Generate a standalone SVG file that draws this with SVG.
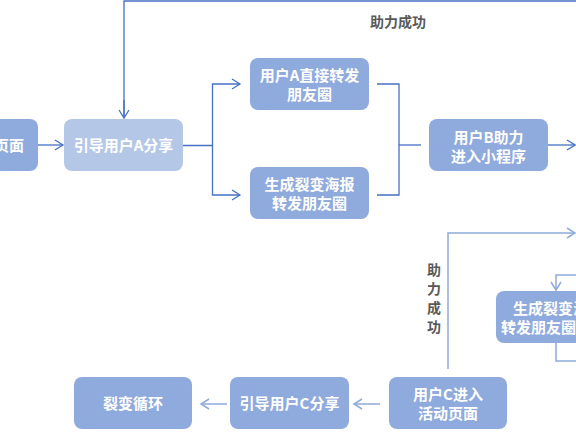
<svg xmlns="http://www.w3.org/2000/svg" width="576" height="432" viewBox="0 0 576 432">
<style>
.node rect{fill:#8faadc;}
.node.light rect{fill:#b4c7e7;}
.node text{fill:#ffffff;font-family:"Noto Sans CJK SC","Liberation Sans",sans-serif;font-size:15px;font-weight:bold;text-anchor:middle;}
.dark{fill:none;stroke:#4472c4;stroke-width:1.3;}
.lite{fill:none;stroke:#8faadc;stroke-width:1.5;}
.lbl{fill:#595959;font-family:"Noto Sans CJK SC","Liberation Sans",sans-serif;font-size:14px;font-weight:bold;text-anchor:middle;}
</style>
<defs>
<marker id="ad" markerUnits="userSpaceOnUse" markerWidth="12" markerHeight="12" refX="9" refY="6" orient="auto">
<path d="M1,1 L9,6 L1,11" fill="none" stroke="#4472c4" stroke-width="1.3"/>
</marker>
<marker id="al" markerUnits="userSpaceOnUse" markerWidth="12" markerHeight="12" refX="9" refY="6" orient="auto">
<path d="M1,1 L9,6 L1,11" fill="none" stroke="#8faadc" stroke-width="1.5"/>
</marker>
</defs>
<rect width="576" height="432" fill="#ffffff"/>
<g id="connectors">
<path class="dark" d="M38,145 H63" marker-end="url(#ad)"/>
<path class="dark" d="M124,118 V1 H576" marker-start="none" marker-end="none"/>
<path class="dark" d="M124,100 V118" marker-end="url(#ad)"/>
<path class="dark" d="M183,145.5 H212.5 V84 H240" marker-end="url(#ad)"/>
<path class="dark" d="M212.5,145.5 V195 H240" marker-end="url(#ad)"/>
<path class="dark" d="M377,84 H399 V195 H377"/>
<path class="dark" d="M399,145 H421"/>
<path class="dark" d="M548,145 H575" marker-end="url(#ad)"/>
<path class="lite" d="M448,369 V233 H575" marker-end="url(#al)"/>
<path class="lite" d="M576,275 H556 V290" marker-end="url(#al)"/>
<path class="lite" d="M556,343 V361 H576"/>
<path class="lite" d="M380,404 H354" marker-end="url(#al)"/>
<path class="lite" d="M227,404 H201" marker-end="url(#al)"/>
</g>
<g id="n_page" class="node"><rect x="-82" y="119" width="120" height="52" rx="8"/><text x="24" y="150.5" style="text-anchor:end">页面</text></g>
<g id="n_shareA" class="node light"><rect x="64" y="119" width="119" height="52" rx="8"/><text x="123.5" y="150.5">引导用户A分享</text></g>
<g id="n_directA" class="node"><rect x="250" y="58" width="119" height="52" rx="8"/><text x="309.5" y="81">用户A直接转发</text><text x="309.5" y="100">朋友圈</text></g>
<g id="n_posterA" class="node"><rect x="250" y="167" width="119" height="52" rx="8"/><text x="309.5" y="190">生成裂变海报</text><text x="309.5" y="209">转发朋友圈</text></g>
<g id="n_userB" class="node"><rect x="429" y="119" width="119" height="52" rx="8"/><text x="488.5" y="142.5">用户B助力</text><text x="488.5" y="161.5">进入小程序</text></g>
<g id="n_posterB" class="node"><rect x="496" y="291" width="119" height="52" rx="8"/><text x="513" y="314" style="text-anchor:start">生成裂变海报</text><text x="501" y="333" style="text-anchor:start">转发朋友圈</text></g>
<g id="n_userC" class="node"><rect x="389" y="377" width="118" height="52" rx="8"/><text x="448" y="400">用户C进入</text><text x="448" y="419">活动页面</text></g>
<g id="n_shareC" class="node"><rect x="230" y="377" width="119" height="52" rx="8"/><text x="289.5" y="408.5">引导用户C分享</text></g>
<g id="n_loop" class="node"><rect x="74" y="377" width="118" height="52" rx="8"/><text x="133" y="408.5">裂变循环</text></g>
<g id="labels">
<text class="lbl" x="398" y="27">助力成功</text>
<text class="lbl" x="434" y="275">助</text>
<text class="lbl" x="434" y="294">力</text>
<text class="lbl" x="434" y="313">成</text>
<text class="lbl" x="434" y="332">功</text>
</g>
</svg>
